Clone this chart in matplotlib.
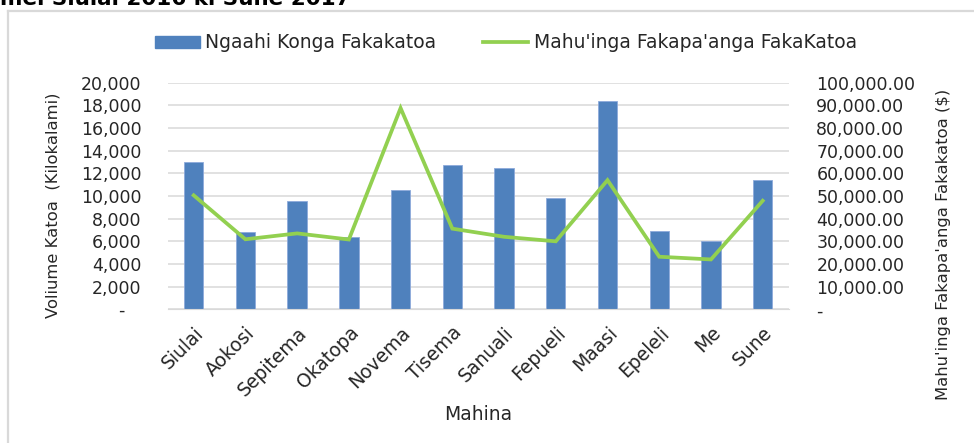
"""Monthly total volume (bars) and total financial value (line), Siulai 2016 - Sune 2017."""

import matplotlib.pyplot as plt
from matplotlib.lines import Line2D
from matplotlib.ticker import FuncFormatter

plt.rcParams["font.family"] = ["DejaVu Sans"]

MONTHS = ["Siulai", "Aokosi", "Sepitema", "Okatopa", "Novema", "Tisema",
          "Sanuali", "Fepueli", "Maasi", "Epeleli", "Me", "Sune"]
VOLUME_KG = [13000, 6850, 9550, 6350, 10500, 12750,
             12500, 9800, 18400, 6950, 6000, 11450]
VALUE_TOP = [50300, 30900, 33500, 30800, 88800, 35600,
             32000, 30000, 57000, 23200, 22000, 47900]

BAR_LABEL = "Ngaahi Konga Fakakatoa"
LINE_LABEL = "Mahu'inga Fakapa'anga FakaKatoa"

BLUE = "#4F81BD"
GREEN = "#92D050"
GRID = "#D9D9D9"
TEXT = "#262626"
FS = 12.5

fig = plt.figure(figsize=(9.74, 4.43), dpi=100)
ax = fig.add_axes([0.1723, 0.3018, 0.6373, 0.5115])
ax2 = ax.twinx()

x = range(len(MONTHS))
ax.bar(x, VOLUME_KG, width=0.375, color=BLUE, edgecolor="#8EAADB",
       linewidth=0.6, zorder=2)
ax2.plot(x, VALUE_TOP, color=GREEN, linewidth=2.7, solid_joinstyle="miter")

ax.set_xlim(-0.5, len(MONTHS) - 0.5)
ax.set_ylim(0, 20000)
ax.set_yticks(range(0, 20001, 2000))
ax2.set_ylim(0, 100000)
ax2.set_yticks(range(0, 100001, 10000))

ax.yaxis.set_major_formatter(FuncFormatter(lambda v, _: f"{v:,.0f}" if v else "-   "))
ax2.yaxis.set_major_formatter(FuncFormatter(lambda v, _: f"{v:,.2f}" if v else "-"))

ax.grid(axis="y", color=GRID, linewidth=1.1, zorder=0)
ax.set_axisbelow(True)
for a in (ax, ax2):
    for s in a.spines.values():
        s.set_visible(False)
    a.tick_params(length=0, labelsize=FS, labelcolor=TEXT)
ax.spines["bottom"].set_visible(True)
ax.spines["bottom"].set_color(GRID)
ax.tick_params(axis="y", pad=19)
ax2.tick_params(axis="y", pad=20)

ax.set_xticks(list(x))
ax.set_xticklabels(MONTHS, rotation=45, ha="right", rotation_mode="anchor",
                   fontsize=13.5)
ax.tick_params(axis="x", pad=10)

ax.set_xlabel("Mahina", fontsize=13.5, color=TEXT, va="center")
ax.xaxis.set_label_coords(0.5, -0.466)
ax.set_ylabel("Voliume Katoa  (Kilokalami)", fontsize=11.8, color=TEXT, va="center")
ax.yaxis.set_label_coords(-0.185, 0.46)
ax2.set_ylabel("Mahu'inga Fakapa'anga Fakakatoa ($)", fontsize=11.8, color=TEXT,
               rotation=90, va="center")
ax2.yaxis.set_label_coords(1.2489, 0.288)

handles = [plt.Rectangle((0, 0), 1, 1, color=BLUE),
           Line2D([], [], color=GREEN, linewidth=2.7)]
fig.legend(handles, [BAR_LABEL, LINE_LABEL], loc="center", ncol=2,
           bbox_to_anchor=(0.5195, 0.9036), frameon=False, fontsize=13.5,
           handlelength=2.4, handleheight=0.6, handletextpad=0.3,
           columnspacing=2.5, labelcolor=TEXT)

# chart border (only top and left edges survive the crop) + clipped title
fig.add_artist(Line2D([8 / 974, 1], [1 - 11 / 443] * 2, color=GRID, linewidth=1.6))
fig.add_artist(Line2D([8 / 974] * 2, [0, 1 - 11 / 443], color=GRID, linewidth=1.6))
fig.text(0.0, 1 - 5 / 443, "mei Siulai 2016 ki Sune 2017", fontsize=15.5,
         fontweight="bold", color="black", ha="left", va="baseline")

fig.savefig("out.png", dpi=100, facecolor="white")
